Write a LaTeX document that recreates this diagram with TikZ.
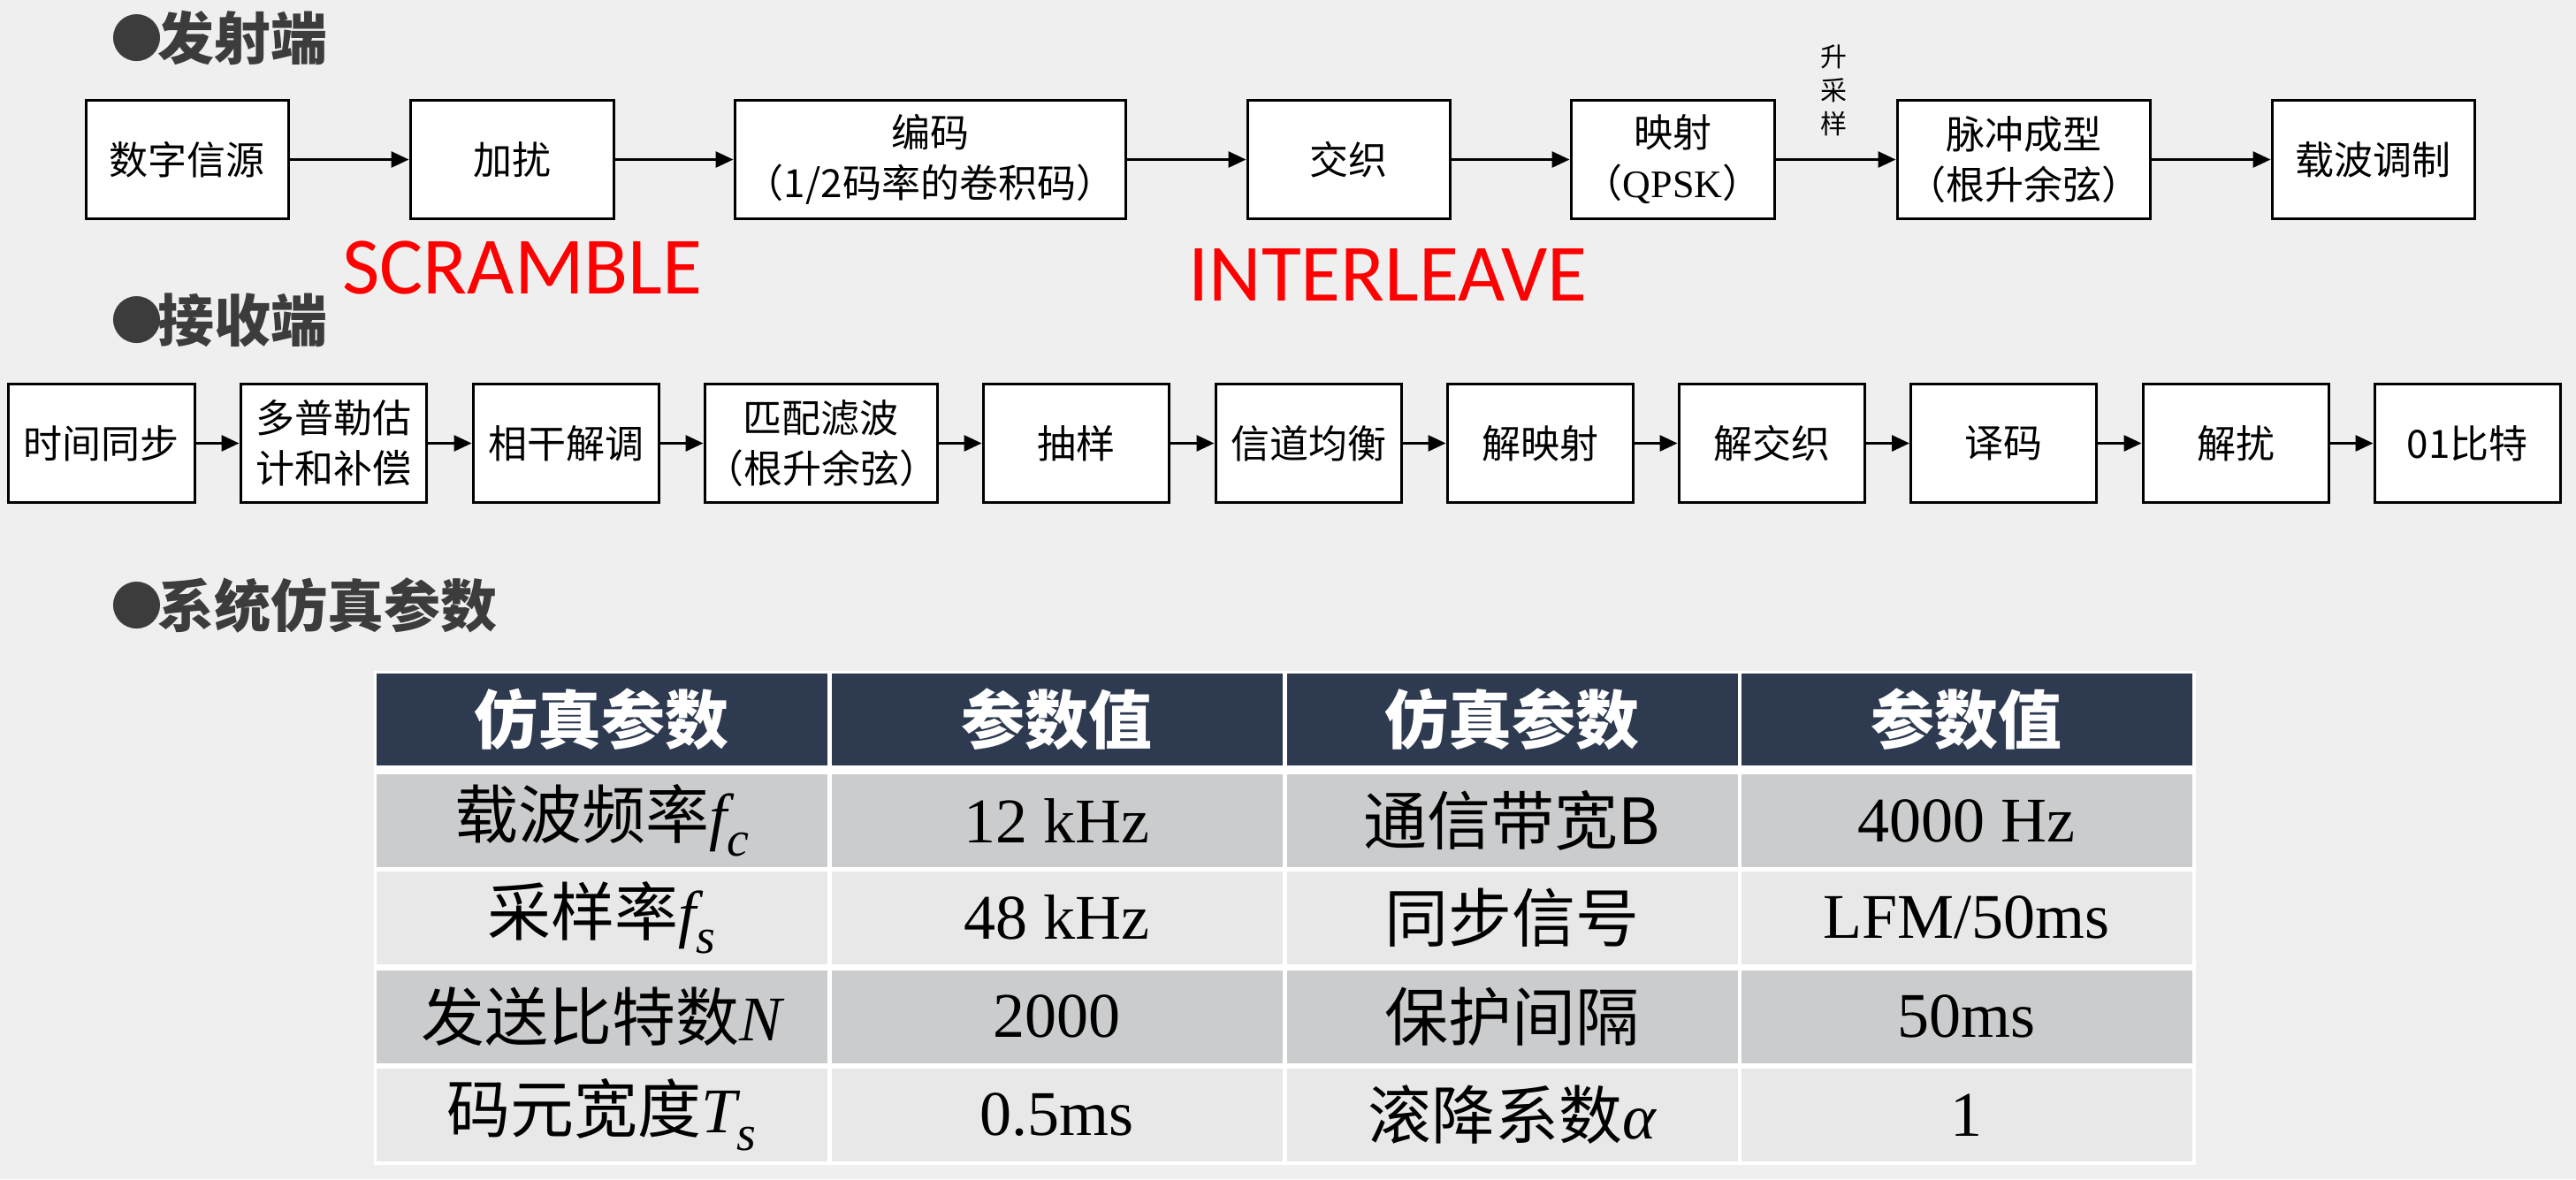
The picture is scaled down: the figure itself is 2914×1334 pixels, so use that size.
\documentclass[tikz,border=0pt]{standalone}
\usepackage{fontspec}
\setmainfont{Noto Sans CJK SC}
\newfontfamily\tnr{Liberation Serif}
\newfontfamily\carl{Carlito}
\usetikzlibrary{arrows.meta}
\definecolor{bgc}{HTML}{EFEFEF}
\definecolor{hdrc}{HTML}{2D3A4F}
\definecolor{rowa}{HTML}{CBCCCE}
\definecolor{rowb}{HTML}{E8E8E9}
\definecolor{headc}{HTML}{3C3C3C}
\newcommand\isub[2]{{\tnr\itshape #1}\raisebox{-0.28em}{\tnr\itshape\fontsize{28}{28}\selectfont #2}}
\newcommand\bul{\raisebox{1pt}{\fontsize{29.5}{29.5}\selectfont ●}\kern-3pt}
\tikzset{
  blk/.style={draw=black, line width=1.5pt, fill=white, minimum height=67pt, inner sep=0pt, align=center, font=\fontsize{22}{28.5}\selectfont, minimum width=#1, text width=#1},
  arr/.style={line width=1.5pt, -{Triangle[length=10pt,width=9pt]}},
  sect/.style={anchor=west, inner sep=0pt, font=\fontsize{32}{32}\selectfont\bfseries, text=headc},
  redlbl/.style={anchor=base, inner sep=0pt, text=red, font=\carl\fontsize{46}{46}\selectfont},
  cell/.style={inner sep=0pt, minimum width=255pt, minimum height=52.5pt, font=\fontsize{36}{36}\selectfont},
  hcell/.style={cell, fill=hdrc, text=white, minimum height=52pt, font=\fontsize{36}{36}\selectfont\bfseries},
  acell/.style={cell, fill=rowa},
  bcell/.style={cell, fill=rowb},
  numf/.style={font=\tnr\fontsize{36}{36}\selectfont},
}
\begin{document}
\begin{tikzpicture}[x=0.5pt,y=-0.5pt]
\fill[bgc] (0,0) rectangle (2914,1334);
\useasboundingbox (0,0) rectangle (2914,1334);

% section titles
\node[sect] (s1) at (125,43) {\bul 发射端};
\node[sect] (s2) at (125,362) {\bul 接收端};
\node[sect] (s3) at (125,685) {\bul 系统仿真参数};

% transmitter
\node[blk=114.5pt] (t1) at (211.5,180.5) {数字信源};
\node[blk=115pt] (t2) at (579,180.5) {加扰};
\node[blk=221pt] (t3) at (1052,180.5) {编码\\（1/2码率的卷积码）};
\node[blk=114.5pt] (t4) at (1525.5,180.5) {交织};
\node[blk=115pt] (t5) at (1892,180.5) {映射\\（{\tnr QPSK}）};
\node[blk=143pt] (t6) at (2289,180.5) {脉冲成型\\（根升余弦）};
\node[blk=114.5pt] (t7) at (2684.5,180.5) {载波调制};
\draw[arr] (t1) -- (t2);
\draw[arr] (t2) -- (t3);
\draw[arr] (t3) -- (t4);
\draw[arr] (t4) -- (t5);
\draw[arr] (t5) -- (t6);
\draw[arr] (t6) -- (t7);
\node[align=center, inner sep=0pt, text width=16pt, font=\fontsize{15}{19}\selectfont] (up) at (2074,102) {升\\采\\样};

\node[redlbl] (scr) at (591,332) {SCRAMBLE};
\node[redlbl] (itl) at (1570,340) {INTERLEAVE};

% receiver
\node[blk=105.5pt] (r1) at (114.5,501.5) {时间同步};
\node[blk=105pt] (r2) at (377,501.5) {多普勒估\\计和补偿};
\node[blk=105pt] (r3) at (640,501.5) {相干解调};
\node[blk=131.5pt] (r4) at (928.5,501.5) {匹配滤波\\（根升余弦）};
\node[blk=105pt] (r5) at (1217,501.5) {抽样};
\node[blk=105pt] (r6) at (1480,501.5) {信道均衡};
\node[blk=105pt] (r7) at (1742,501.5) {解映射};
\node[blk=105pt] (r8) at (2004,501.5) {解交织};
\node[blk=105pt] (r9) at (2266.5,501.5) {译码};
\node[blk=105pt] (r10) at (2529,501.5) {解扰};
\node[blk=105pt] (r11) at (2791,501.5) {01比特};
\foreach \a/\b in {r1/r2,r2/r3,r3/r4,r4/r5,r5/r6,r6/r7,r7/r8,r8/r9,r9/r10,r10/r11}
  \draw[arr] (\a) -- (\b);

% table
\fill[white] (423,759) rectangle (2484,1318);
\node[hcell] (h1) at (680.5,814) {仿真参数};
\node[hcell] (h2) at (1195.5,814) {参数值};
\node[hcell] (h3) at (1710.5,814) {仿真参数};
\node[hcell] (h4) at (2224.5,814) {参数值};

\node[acell] (a1) at (680.5,928.5) {载波频率\isub{f}{c}};
\node[acell, numf] (a2) at (1195.5,928.5) {12 kHz};
\node[acell] (a3) at (1710.5,928.5) {通信带宽B};
\node[acell, numf] (a4) at (2224.5,928.5) {4000 Hz};

\node[bcell] (b1) at (680.5,1038) {采样率\isub{f}{s}};
\node[bcell, numf] (b2) at (1195.5,1038) {48 kHz};
\node[bcell] (b3) at (1710.5,1038) {同步信号};
\node[bcell, numf] (b4) at (2224.5,1038) {LFM/50ms};

\node[acell] (c1) at (680.5,1150) {发送比特数{\tnr\itshape N}};
\node[acell, numf] (c2) at (1195.5,1150) {2000};
\node[acell] (c3) at (1710.5,1150) {保护间隔};
\node[acell, numf] (c4) at (2224.5,1150) {50ms};

\node[bcell] (d1) at (680.5,1261.5) {码元宽度\isub{T}{s}};
\node[bcell, numf] (d2) at (1195.5,1261.5) {0.5ms};
\node[bcell] (d3) at (1710.5,1261.5) {滚降系数{\tnr\itshape α}};
\node[bcell, numf] (d4) at (2224.5,1261.5) {1};
\end{tikzpicture}
\end{document}
